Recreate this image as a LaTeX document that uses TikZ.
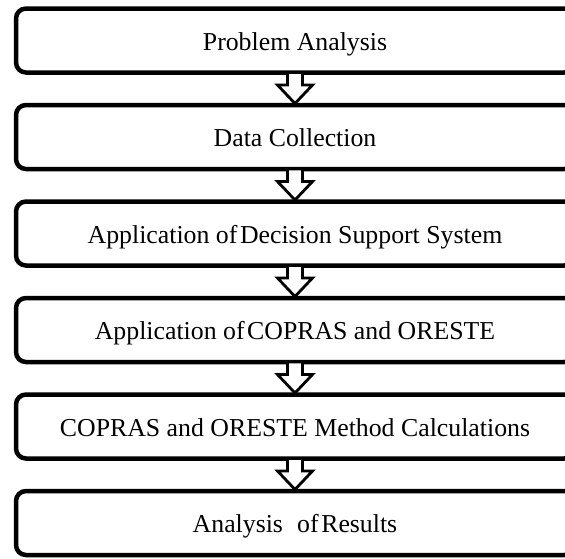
\documentclass[tikz,border=0pt]{standalone}
\usepackage{fontspec}
\setmainfont{Liberation Serif}
\usetikzlibrary{calc}
\begin{document}
\begin{tikzpicture}[x=1pt,y=-1pt,
  stepbox/.style={draw=black, line width=4.5pt, rounded corners=10pt,
    minimum width=558pt, minimum height=64pt, inner sep=0pt, outer sep=0pt,
    text height=20pt, text depth=1pt,
    fill=white, font=\fontsize{25.8}{30}\selectfont},
  flowarrow/.style={draw=black, line width=2.8pt, fill=white, line join=miter}]
\useasboundingbox (0,0) rectangle (565,558);
\clip (0,0) rectangle (565,558);
\node[stepbox] (b1) at (295,40.5) {Problem Analysis};
\node[stepbox] (b2) at (295,137) {Data Collection};
\node[stepbox] (b3) at (295,233.5) {Application of\hspace{-0.15em} Decision Support System};
\node[stepbox] (b4) at (295,330) {Application of\hspace{-0.15em} COPRAS and ORESTE};
\node[stepbox] (b5) at (295,426.5) {COPRAS and ORESTE Method Calculations};
\node[stepbox] (b6) at (295,523) {Analysis\hspace{0.3em} of\hspace{-0.15em} Results};
\foreach \a/\b in {b1/b2,b2/b3,b3/b4,b4/b5,b5/b6}{
  \draw[flowarrow] ($(\a.south)+(-7.5,0)$) -- ++(0,12.5) -- ++(-10,0)
     -- ($(\b.north)+(0,-1.5)$) -- ($(\a.south)+(17.5,12.5)$) -- ++(-10,0)
     -- ++(0,-12.5) -- cycle;
}
\end{tikzpicture}
\end{document}
